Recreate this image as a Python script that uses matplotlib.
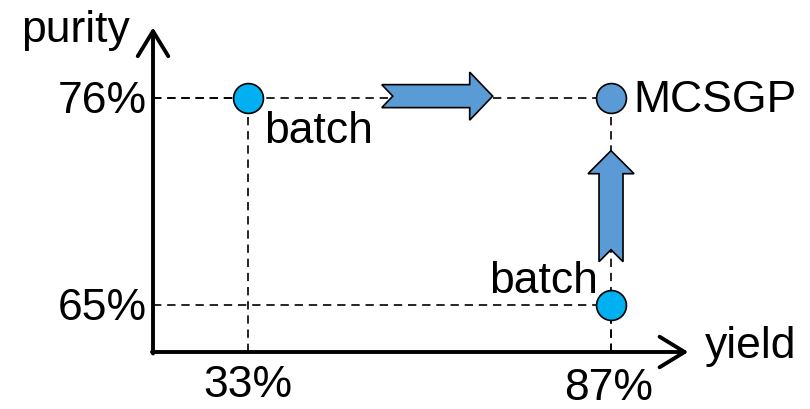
import numpy as np
import matplotlib
matplotlib.use("Agg")
import matplotlib.pyplot as plt
from matplotlib.patches import Polygon

plt.rcParams['font.family'] = ['Liberation Sans', 'DejaVu Sans']

# data
point_names = ['batch', 'MCSGP', 'batch']
yields = [33, 87, 87]
purities = [76, 76, 65]
point_colors = ['#00B0F0', '#5B9BD5', '#00B0F0']
xtick_vals = [33, 87]
xtick_labels = ['33%', '87%']
ytick_vals = [76, 65]
ytick_labels = ['76%', '65%']

FS = 32
fig = plt.figure(figsize=(8.1, 4.09), dpi=100)
ax = fig.add_axes([0, 0, 1, 1])
ax.set_xlim(-3.89, 116.6)
ax.set_ylim(59.47, 81.21)
ax.axis('off')

x0, y0 = 18.87, 62.5      # axis origin
x_end, y_end = 98.5, 79.75

# axis arrows
ax.annotate('', xy=(x_end, y0), xytext=(x0 - 0.15, y0),
            arrowprops=dict(arrowstyle='->,head_length=0.9,head_width=0.55',
                            lw=2.8, color='black', mutation_scale=20,
                            shrinkA=0, shrinkB=0))
ax.annotate('', xy=(x0, y_end), xytext=(x0, y0 - 0.08),
            arrowprops=dict(arrowstyle='->,head_length=0.9,head_width=0.55',
                            lw=2.8, color='black', mutation_scale=20,
                            shrinkA=0, shrinkB=0))

# dashed guide lines
for xv, yv in zip(yields, purities):
    ax.plot([x0, xv], [yv, yv], color='black', lw=1.2, ls=(0, (5, 3.5)), zorder=1)
    ax.plot([xv, xv], [y0, yv], color='black', lw=1.2, ls=(0, (5, 3.5)), zorder=1)

# points
for xv, yv, c in zip(yields, purities, point_colors):
    ax.plot(xv, yv, 'o', ms=21.5, mfc=c, mec='black', mew=1.2, zorder=5)

# tick labels
for yv, lab in zip(ytick_vals, ytick_labels):
    ax.annotate(lab, (x0, yv), xytext=(-6, -15), textcoords='offset pixels',
                ha='right', va='baseline', fontsize=FS)
ax.annotate(xtick_labels[0], (xtick_vals[0], y0), xytext=(0, -45),
            textcoords='offset pixels', ha='center', va='baseline', fontsize=FS)
ax.annotate(xtick_labels[1], (xtick_vals[1], y0), xytext=(-2, -48),
            textcoords='offset pixels', ha='center', va='baseline', fontsize=FS)

# axis titles
ax.annotate('purity', (x0, y_end), xytext=(-23, -15), textcoords='offset pixels',
            ha='right', va='baseline', fontsize=FS)
ax.annotate('yield', (x_end, y0), xytext=(17, -6), textcoords='offset pixels',
            ha='left', va='baseline', fontsize=FS)

# point labels
ax.annotate(point_names[0], (yields[0], purities[0]), xytext=(16, -45),
            textcoords='offset pixels', ha='left', va='baseline', fontsize=FS)
ax.annotate(point_names[1], (yields[1], purities[1]), xytext=(22, -14),
            textcoords='offset pixels', ha='left', va='baseline', fontsize=FS)
ax.annotate(point_names[2], (yields[2], purities[2]), xytext=(-13, 12),
            textcoords='offset pixels', ha='right', va='baseline', fontsize=FS)


def block_arrow(p_start, p_end, body=11.5, head=24, head_len=23, notch=11):
    # arrow polygon in display pixels
    a = ax.transData.transform(p_start)
    b = ax.transData.transform(p_end)
    d = b - a
    L = np.hypot(*d)
    u = d / L
    n = np.array([-u[1], u[0]])
    pts = [a + n * body, a + u * (L - head_len) + n * body,
           a + u * (L - head_len) + n * head, b,
           a + u * (L - head_len) - n * head, a + u * (L - head_len) - n * body,
           a - n * body, a + u * notch]
    poly = Polygon(pts, closed=True, transform=None, facecolor='#5B9BD5',
                   edgecolor='black', lw=1.2, zorder=4)
    fig.patches.append(poly)


block_arrow((52.9, 76.1), (69.4, 76.1))
block_arrow((87, 67.3), (87, 73.2), body=12, head=23, head_len=23, notch=12)

fig.savefig('out.png', dpi=100)
